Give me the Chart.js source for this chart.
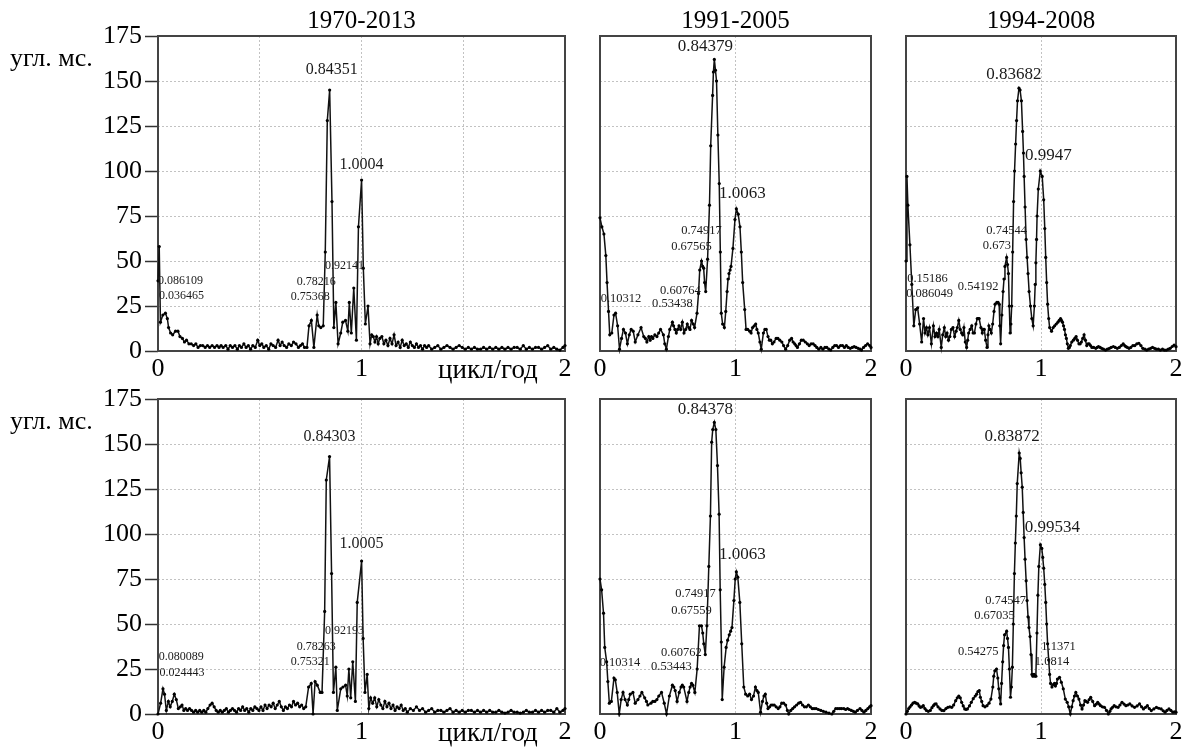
<!DOCTYPE html>
<html>
<head>
<meta charset="utf-8">
<script src="https://cdn.jsdelivr.net/npm/chart.js@4.4.1/dist/chart.umd.min.js"></script>
<style>
  html, body { margin: 0; padding: 0; background: #fff; overflow: hidden; }
  #page { position: relative; width: 1195px; height: 751px; font-family: 'Liberation Serif', 'Times New Roman', serif; color: #000; }
  .box { position: absolute; }
  .txt { position: absolute; white-space: nowrap; line-height: 1; }
</style>
</head>
<body>
<div id="page"></div>
<script>
// ---- text ----
const PERIODS = ['1970-2013', '1991-2005', '1994-2008'];
const Y_UNIT = 'угл. мс.';
const X_UNIT = 'цикл/год';

// ---- amplitude spectra: [frequency (cycles/year), amplitude (mas)] ----
const spec1970a = [[0,39],[0.006,58],[0.012,16],[0.024,20],[0.036465,21],[0.046,18],[0.052,13],[0.062,10],[0.072,9],[0.086109,11],[0.098,11],[0.108,8],[0.12,7],[0.13,5],[0.14,6],[0.152,4],[0.163,4],[0.175,3],[0.186,4],[0.197,2],[0.208,3],[0.22,3],[0.232,2],[0.243,3],[0.254,2],[0.266,3],[0.278,2],[0.29,3],[0.3,2],[0.31,3],[0.32,2],[0.333,3],[0.344,1],[0.355,3],[0.366,2],[0.378,3],[0.39,1],[0.4,3],[0.41,2],[0.422,4],[0.433,2],[0.444,3],[0.455,1],[0.466,3],[0.478,2],[0.49,6],[0.5,3],[0.51,4],[0.52,2],[0.532,3],[0.544,1],[0.555,4],[0.566,3],[0.578,2],[0.59,6],[0.6,3],[0.61,5],[0.62,3],[0.632,2],[0.643,4],[0.655,3],[0.666,5],[0.678,4],[0.69,2],[0.7,3],[0.71,4],[0.72,2],[0.732,2],[0.742,14],[0.75368,17],[0.766,2],[0.78216,20],[0.79,14],[0.8,13],[0.812,14],[0.822,55],[0.832,128],[0.84351,145],[0.855,83],[0.864,13],[0.874,27],[0.885,4],[0.898,10],[0.908,16],[0.92141,17],[0.933,11],[0.94,27],[0.95,10],[0.962,35],[0.975,6],[0.985,69],[1.0004,95],[1.009,46],[1.019,15],[1.032,25],[1.042,4],[1.05,9],[1.058,8],[1.066,5],[1.074,8],[1.082,4],[1.09,7],[1.1,8],[1.11,4],[1.12,6],[1.13,3],[1.14,7],[1.15,4],[1.16,9],[1.17,3],[1.18,5],[1.19,2],[1.2,6],[1.21,3],[1.22,4],[1.23,2],[1.24,5],[1.25,3],[1.26,2],[1.27,4],[1.28,2],[1.29,3],[1.3,1],[1.31,3],[1.32,2],[1.33,3],[1.345,1],[1.36,2],[1.375,3],[1.39,1],[1.405,2],[1.42,3],[1.435,2],[1.45,1],[1.465,2],[1.48,3],[1.495,2],[1.51,1],[1.525,2],[1.54,1],[1.555,2],[1.57,1],[1.585,1],[1.6,2],[1.615,1],[1.63,2],[1.645,1],[1.66,2],[1.675,1],[1.69,2],[1.705,1],[1.72,2],[1.735,1],[1.75,2],[1.765,2],[1.78,1],[1.795,3],[1.81,1],[1.825,2],[1.84,1],[1.855,2],[1.87,2],[1.885,1],[1.9,2],[1.915,3],[1.93,1],[1.945,2],[1.96,1],[1.975,0.5],[1.99,2],[2,3]];
const peaks1970a = [0.84351, 1.0004, 0.92141, 0.78216, 0.75368, 0.086109, 0.036465];

const spec1991a = [[0,74],[0.014,69],[0.029,65],[0.043,53],[0.052,38],[0.063,22],[0.072,9],[0.087,10],[0.10312,20],[0.115,21],[0.13,14],[0.144,1],[0.159,7],[0.173,12],[0.188,10],[0.202,4],[0.216,9],[0.23,12],[0.245,11],[0.26,5],[0.28,9],[0.303,13],[0.323,8],[0.335,7],[0.346,5],[0.36,8],[0.37,6],[0.38,8],[0.39,7],[0.405,9],[0.42,8],[0.433,10],[0.447,12],[0.468,9],[0.478,4],[0.49,1],[0.505,8],[0.515,12],[0.53438,16],[0.543,14],[0.553,12],[0.563,10],[0.573,12],[0.583,14],[0.595,12],[0.60764,16],[0.62,10],[0.632,12],[0.644,15],[0.655,13],[0.664,12],[0.67565,17],[0.688,15],[0.698,13],[0.716,21],[0.727,32],[0.736,45],[0.74917,50],[0.758,47],[0.765,46],[0.772,38],[0.78,33],[0.794,51],[0.808,81],[0.817,114],[0.831,142],[0.837,155],[0.84379,162],[0.852,156],[0.86,150],[0.87,120],[0.88,93],[0.888,55],[0.895,21],[0.905,15],[0.918,13],[0.928,22],[0.938,33],[0.945,40],[0.952,43],[0.96,45],[0.967,47],[0.981,57],[0.996,73],[1.0063,79],[1.02,76],[1.033,69],[1.043,55],[1.053,38],[1.068,23],[1.078,12],[1.09,12],[1.105,11],[1.115,10],[1.126,13],[1.138,14],[1.149,15],[1.158,12],[1.168,10],[1.18,5],[1.19,1],[1.206,10],[1.217,12],[1.227,12],[1.24,8],[1.25,6],[1.26,6],[1.272,4],[1.284,5],[1.3,7],[1.313,7],[1.327,6],[1.342,5],[1.355,3],[1.37,1],[1.385,3],[1.4,6],[1.414,7],[1.425,5],[1.437,4],[1.447,3],[1.457,2],[1.472,4],[1.486,6],[1.5,6],[1.515,5],[1.53,4],[1.544,3],[1.558,4],[1.573,4],[1.587,3],[1.6,2],[1.615,1],[1.63,2],[1.645,1],[1.66,2],[1.674,2],[1.69,1],[1.703,0.5],[1.718,2],[1.732,3],[1.746,3],[1.76,2],[1.775,3],[1.79,3],[1.804,2],[1.818,3],[1.832,2],[1.847,1.5],[1.862,2],[1.876,2.4],[1.89,2],[1.905,1.5],[1.92,1],[1.93,0.5],[1.945,2],[1.96,3],[1.975,4],[1.99,3],[2,2]];
const peaks1991a = [0.84379, 1.0063, 0.74917, 0.67565, 0.60764, 0.53438, 0.10312];

const spec1994a = [[0,50],[0.007,97],[0.014,81],[0.029,59],[0.043,37],[0.058,14],[0.072,23],[0.086049,24],[0.101,15],[0.116,5],[0.13,18],[0.141,10],[0.15186,13],[0.162,9],[0.174,13],[0.188,4],[0.203,14],[0.215,8],[0.226,10],[0.236,8],[0.246,12],[0.261,2],[0.272,9],[0.284,13],[0.294,8],[0.304,10],[0.315,6],[0.325,8],[0.336,12],[0.348,13],[0.36,8],[0.371,11],[0.38,13],[0.391,17],[0.402,12],[0.412,10],[0.42,9],[0.429,13],[0.439,5],[0.449,2],[0.457,6],[0.464,10],[0.475,12],[0.487,14],[0.497,10],[0.507,10],[0.518,15],[0.528,18],[0.535,18],[0.54192,18],[0.555,13],[0.565,10],[0.572,12],[0.58,12],[0.59,6],[0.6,2],[0.607,9],[0.614,14],[0.622,12],[0.632,10],[0.642,15],[0.652,22],[0.66,26],[0.673,27],[0.682,27],[0.69,26],[0.695,14],[0.701,4],[0.71,20],[0.719,33],[0.726,40],[0.733,47],[0.74544,52],[0.752,48],[0.759,43],[0.765,25],[0.771,10],[0.777,15],[0.783,25],[0.79,55],[0.797,83],[0.804,100],[0.812,115],[0.819,128],[0.826,139],[0.83682,146],[0.845,145],[0.855,139],[0.864,122],[0.87,110],[0.875,97],[0.882,80],[0.89,62],[0.897,52],[0.904,43],[0.912,33],[0.922,25],[0.932,18],[0.942,14],[0.951,25],[0.957,37],[0.962,49],[0.967,62],[0.971,75],[0.98,90],[0.9947,100],[1.009,97],[1.02,84],[1.028,68],[1.035,52],[1.042,38],[1.049,26],[1.057,18],[1.064,13],[1.078,11],[1.09,13],[1.101,14],[1.113,15],[1.125,16],[1.135,17],[1.145,18],[1.152,17],[1.159,16],[1.167,14],[1.174,12],[1.181,9],[1.188,7],[1.195,4],[1.203,1.5],[1.21,2],[1.217,3],[1.228,5],[1.24,6],[1.25,7],[1.26,8],[1.27,6],[1.281,4],[1.29,4],[1.299,5],[1.309,7],[1.319,9],[1.329,6],[1.339,3],[1.348,4],[1.357,4],[1.367,3],[1.377,2],[1.39,2],[1.406,1.5],[1.416,2],[1.426,2.5],[1.438,2],[1.449,1.5],[1.463,1],[1.478,0.5],[1.492,1],[1.507,1.5],[1.52,2],[1.536,2.5],[1.55,2],[1.565,1.5],[1.58,2],[1.595,3],[1.609,4],[1.62,3],[1.629,2.4],[1.64,2],[1.652,1.5],[1.665,2],[1.681,3],[1.695,3],[1.71,4],[1.725,4.3],[1.74,3],[1.754,1.5],[1.77,1],[1.783,0.5],[1.797,1],[1.812,1.5],[1.826,2],[1.841,1.5],[1.855,1],[1.87,1],[1.884,0.5],[1.9,1],[1.914,0.5],[1.928,0.5],[1.943,1],[1.957,1.5],[1.972,2.5],[1.986,3.3],[2,2.4]];
const peaks1994a = [0.83682, 0.9947, 0.74544, 0.673, 0.54192, 0.15186, 0.086049];

const spec1970b = [[0,0],[0.013,6],[0.024443,14],[0.032,11],[0.041,2],[0.051,7],[0.06,4],[0.07,7],[0.080089,11],[0.09,8],[0.1,3],[0.11,4],[0.118,5],[0.127,2],[0.136,3],[0.145,2],[0.155,3],[0.165,2],[0.175,1],[0.185,2],[0.195,1],[0.205,2],[0.215,1],[0.225,2],[0.235,1],[0.245,3],[0.256,5],[0.266,6],[0.276,4],[0.286,2],[0.296,1],[0.306,2],[0.316,1],[0.326,2],[0.336,3],[0.346,1],[0.356,2],[0.366,3],[0.376,2],[0.386,1],[0.396,3],[0.406,2],[0.416,4],[0.426,2],[0.436,3],[0.446,1],[0.456,3],[0.466,2],[0.476,4],[0.486,3],[0.496,2],[0.506,4],[0.516,2],[0.526,5],[0.536,3],[0.546,5],[0.556,4],[0.566,6],[0.576,3],[0.586,5],[0.596,7],[0.606,4],[0.616,2],[0.626,4],[0.636,3],[0.646,5],[0.656,4],[0.666,7],[0.676,5],[0.686,6],[0.696,4],[0.706,5],[0.716,3],[0.726,4],[0.74,15],[0.75321,17],[0.762,0],[0.772,18],[0.78263,16],[0.797,12],[0.806,12],[0.819,57],[0.827,130],[0.84303,143],[0.853,78],[0.862,12],[0.874,26],[0.881,2],[0.898,14],[0.909,15],[0.92193,16],[0.93,10],[0.938,25],[0.947,9],[0.957,29],[0.97,7],[0.979,62],[1.0005,85],[1.008,42],[1.017,12],[1.028,22],[1.036,3],[1.045,9],[1.055,6],[1.065,9],[1.075,4],[1.085,8],[1.095,5],[1.105,3],[1.115,7],[1.125,4],[1.135,6],[1.145,3],[1.155,5],[1.165,2],[1.175,4],[1.185,3],[1.195,5],[1.205,2],[1.215,3],[1.225,1],[1.24,3],[1.255,2],[1.27,4],[1.285,2],[1.3,3],[1.315,1],[1.33,2],[1.345,3],[1.36,1],[1.375,2],[1.39,2],[1.405,1],[1.42,2],[1.435,3],[1.45,1],[1.465,2],[1.48,1],[1.495,2],[1.51,1],[1.525,2],[1.54,2],[1.555,1],[1.57,2],[1.585,1],[1.6,2],[1.615,1],[1.63,2],[1.645,1],[1.66,1],[1.675,2],[1.69,1],[1.705,0.5],[1.72,1],[1.735,2],[1.75,1],[1.765,1],[1.78,0.5],[1.795,1],[1.81,2],[1.825,1],[1.84,1],[1.855,2],[1.87,1],[1.885,2],[1.9,1],[1.915,2],[1.93,2],[1.945,1],[1.96,3],[1.975,1],[1.99,2],[2,3]];
const peaks1970b = [0.84303, 1.0005, 0.92193, 0.78263, 0.75321, 0.080089, 0.024443];

const spec1991b = [[0,75],[0.012,69],[0.026,56],[0.035,37],[0.049,29],[0.058,18],[0.069,6],[0.084,7],[0.10314,20],[0.113,19],[0.127,12],[0.142,0],[0.156,8],[0.17,12],[0.185,8],[0.202,5],[0.212,8],[0.223,11],[0.243,12],[0.26,6],[0.28,8],[0.295,10],[0.309,12],[0.33,9],[0.343,7],[0.353,5],[0.376,6],[0.39,7],[0.405,7],[0.42,8],[0.434,10],[0.454,12],[0.474,6],[0.491,0],[0.512,10],[0.53443,16],[0.545,15],[0.555,13],[0.569,7],[0.585,12],[0.598,15],[0.60762,16],[0.618,15],[0.642,7],[0.655,12],[0.665,15],[0.67559,17],[0.685,16],[0.7,12],[0.717,25],[0.734,49],[0.74917,49],[0.758,45],[0.766,39],[0.777,33],[0.789,49],[0.803,82],[0.815,110],[0.824,151],[0.832,158],[0.84378,162],[0.855,158],[0.867,138],[0.879,111],[0.887,69],[0.895,40],[0.902,8],[0.916,26],[0.931,37],[0.942,41],[0.954,44],[0.964,46],[0.974,48],[0.988,63],[0.998,75],[1.0063,79],[1.017,76],[1.032,62],[1.046,39],[1.061,15],[1.075,11],[1.09,10],[1.104,11],[1.118,8],[1.133,10],[1.147,15],[1.158,13],[1.168,12],[1.185,1],[1.199,7],[1.21,10],[1.22,11],[1.23,6],[1.24,3],[1.252,4],[1.263,5],[1.275,5],[1.286,5],[1.3,4],[1.315,3],[1.328,4],[1.341,6],[1.355,6],[1.37,5],[1.383,2],[1.393,0],[1.408,2],[1.422,3],[1.436,4],[1.451,5],[1.466,6],[1.48,6.5],[1.495,5],[1.509,4],[1.523,4],[1.538,5],[1.552,4],[1.566,3],[1.58,3],[1.595,3],[1.612,2.5],[1.63,2],[1.648,1.5],[1.668,1],[1.69,0.5],[1.711,0],[1.725,1.5],[1.74,3],[1.755,3],[1.77,3],[1.783,3],[1.8,3],[1.813,2.5],[1.827,3],[1.84,2.5],[1.855,2],[1.87,1.5],[1.884,1],[1.9,2],[1.919,3],[1.933,2],[1.948,1],[1.962,2],[1.977,3],[1.99,4],[2,4.6]];
const peaks1991b = [0.84378, 1.0063, 0.74917, 0.67559, 0.60762, 0.53443, 0.10314];

const spec1994b = [[0,0],[0.01,1.5],[0.02,3],[0.03,4],[0.041,5],[0.052,6],[0.064,6.5],[0.075,6],[0.087,5.6],[0.097,4.5],[0.107,3.7],[0.118,4],[0.128,4.6],[0.14,3],[0.151,2],[0.165,1.5],[0.18,2],[0.192,3.5],[0.203,4.6],[0.213,5.5],[0.223,5.6],[0.237,4],[0.252,2.8],[0.266,2],[0.281,1.9],[0.296,3],[0.31,3.7],[0.325,4],[0.339,3.7],[0.353,5],[0.368,7.4],[0.38,9],[0.391,10],[0.402,9],[0.412,6.5],[0.424,4.5],[0.435,2.8],[0.445,2.5],[0.455,2.8],[0.47,4.5],[0.484,6.5],[0.498,8.5],[0.513,10],[0.523,11],[0.533,12.5],[0.54275,13],[0.551,9.3],[0.561,7],[0.571,4.6],[0.585,4],[0.6,4.6],[0.615,6],[0.629,8.3],[0.643,15],[0.65,21],[0.658,24],[0.67035,25],[0.68,20],[0.687,14],[0.694,9],[0.701,5.6],[0.708,17],[0.716,29],[0.723,38],[0.73,44],[0.74547,46],[0.752,42],[0.759,37],[0.766,25],[0.774,9.3],[0.781,15],[0.788,26],[0.795,50],[0.803,78],[0.81,95],[0.817,110],[0.824,128],[0.83872,145],[0.846,142],[0.853,134],[0.861,126],[0.868,112],[0.875,98],[0.882,86],[0.89,74],[0.897,63],[0.904,54],[0.911,48],[0.919,43],[0.926,33],[0.933,22],[0.94,21],[0.948,22],[0.955,21],[0.962,21],[0.97,45],[0.977,66],[0.984,82],[0.99534,94],[1.006,92],[1.013,87],[1.02,81],[1.028,72],[1.035,62],[1.042,50],[1.049,39],[1.057,30],[1.064,22],[1.071,17],[1.0814,15],[1.093,16.5],[1.1,17],[1.107,15.6],[1.115,17],[1.122,19.4],[1.1371,20.4],[1.151,17.6],[1.165,14],[1.18,8.3],[1.194,6.5],[1.205,4],[1.217,0],[1.228,4],[1.238,7.4],[1.248,10],[1.258,12],[1.27,10],[1.281,8.3],[1.293,5],[1.304,2.8],[1.315,5],[1.325,7.4],[1.335,7],[1.345,6.5],[1.357,8],[1.368,9.3],[1.383,7],[1.397,4.6],[1.41,5.5],[1.42,6.5],[1.431,5.5],[1.441,4.6],[1.455,4],[1.47,3.7],[1.485,2],[1.499,0],[1.51,1.5],[1.519,2.8],[1.53,3.7],[1.542,4.6],[1.556,4],[1.571,3.7],[1.585,5],[1.6,6.5],[1.615,5.5],[1.629,4.6],[1.643,5],[1.658,5.6],[1.675,4.5],[1.693,3.7],[1.712,4.5],[1.73,5.6],[1.745,4],[1.759,2.8],[1.774,3.7],[1.788,4.6],[1.802,3],[1.817,1.9],[1.836,2.8],[1.855,3.7],[1.872,3.2],[1.89,2.8],[1.905,1.8],[1.919,1],[1.933,2],[1.948,2.8],[1.962,2],[1.977,1],[1.99,1.2],[2,1]];
const peaks1994b = [0.83872, 0.99534, 0.74547, 0.67035, 0.54275, 1.1371, 1.0814];

// ---- layout (page pixels) ----
const SERIF = "'Liberation Serif', 'Times New Roman', serif";
const ROW_TOP = [36, 399];
const PLOT_H = 315;
const COL_X = [[158, 565], [600, 871], [906, 1176]];

// label placement relative to its peak marker: [dx, dy, font size]
const LABEL_OFFSETS = {
  '1970a': [[2,-20,16],[0,-15,16],[-1,-55,12],[-1,-33,12],[-1,-24,12],[5,-50,12],[16,-17,12]],
  '1991a': [[-9,-13,17],[6,-15,17],[0,-30,12.5],[0,-74,12.5],[-2,-31,12.5],[0,-18,12.5],[7,-16,12.5]],
  '1994a': [[-5,-14,17],[8,-15,17],[0,-27,12.5],[0,-57,12.5],[-1,-32,12.5],[1,-49,12.5],[12,-14,12.5]],
  '1970b': [[0,-20,16],[0,-17,16],[-1,-54,12],[-1,-38,12],[-1,-22,12],[7,-37,12],[19,-16,12]],
  '1991b': [[-9,-13,17],[6,-17,17],[-6,-32,12.5],[0,-73,12.5],[-1,-32,12.5],[-1,-18,12.5],[6,-15,12.5]],
  '1994b': [[-7,-16,17],[12,-17,17],[-1,-30,12.5],[-2,-53,12.5],[-1,-39,12.5],[-1,-31,12.5],[0,-25,12.5]]
};

const PANELS = [
  { key: '1970a', spec: spec1970a, peaks: peaks1970a, row: 0, col: 0 },
  { key: '1991a', spec: spec1991a, peaks: peaks1991a, row: 0, col: 1 },
  { key: '1994a', spec: spec1994a, peaks: peaks1994a, row: 0, col: 2 },
  { key: '1970b', spec: spec1970b, peaks: peaks1970b, row: 1, col: 0 },
  { key: '1991b', spec: spec1991b, peaks: peaks1991b, row: 1, col: 1 },
  { key: '1994b', spec: spec1994b, peaks: peaks1994b, row: 1, col: 2 }
];

const page = document.getElementById('page');

function addText(str, left, baseline, size, center) {
  const d = document.createElement('div');
  d.className = 'txt';
  d.textContent = str;
  d.style.fontSize = size + 'px';
  d.style.top = (baseline - 0.8375 * size) + 'px';
  if (center) {
    d.style.left = (left - 150) + 'px';
    d.style.width = '300px';
    d.style.textAlign = 'center';
  } else {
    d.style.left = left + 'px';
  }
  page.appendChild(d);
}

// frame around the plotting area
const framePlugin = {
  id: 'frame',
  beforeDatasetsDraw(chart) {
    const { ctx, chartArea: a } = chart;
    ctx.save();
    ctx.strokeStyle = '#444';
    ctx.lineWidth = 2;
    ctx.strokeRect(a.left, a.top, a.right - a.left, a.bottom - a.top);
    ctx.restore();
  }
};

function peakLabelPlugin(peaks, offsets) {
  return {
    id: 'peakLabels',
    afterDatasetsDraw(chart) {
      const { ctx } = chart;
      const pts = chart.data.datasets[0].data;
      const meta = chart.getDatasetMeta(0);
      ctx.save();
      ctx.fillStyle = '#1a1a1a';
      ctx.textAlign = 'center';
      ctx.textBaseline = 'middle';
      peaks.forEach((f, i) => {
        const idx = pts.findIndex(p => p.x === f);
        if (idx < 0) return;
        const el = meta.data[idx];
        const [dx, dy, size] = offsets[i];
        ctx.font = size + 'px ' + SERIF;
        ctx.fillText(String(f), el.x + dx, el.y + dy);
      });
      ctx.restore();
    }
  };
}

PANELS.forEach(p => {
  const [x0, x1] = COL_X[p.col];
  const top = ROW_TOP[p.row];
  const padL = p.col === 0 ? 78 : 12;
  const padR = 16, padT = 36, axisH = 40;
  const w = padL + (x1 - x0) + padR;
  const h = padT + PLOT_H + axisH;
  const box = document.createElement('div');
  box.className = 'box';
  box.style.left = (x0 - padL) + 'px';
  box.style.top = (top - padT) + 'px';
  const cv = document.createElement('canvas');
  cv.width = w; cv.height = h;
  cv.style.width = w + 'px'; cv.style.height = h + 'px';
  box.appendChild(cv);
  page.appendChild(box);

  const gridColor = (lo, hi) => ctx => {
    const v = ctx.tick ? ctx.tick.value : null;
    return (v === lo || v === hi) ? 'rgba(0,0,0,0)' : '#c2c2c2';
  };

  new Chart(cv, {
    type: 'line',
    data: {
      datasets: [{
        data: p.spec.map(([f, a]) => ({ x: f, y: a })),
        borderColor: '#111',
        borderWidth: 1.5,
        pointRadius: 1.6,
        pointBackgroundColor: '#000',
        pointBorderWidth: 0,
        pointHoverRadius: 0,
        tension: 0,
        clip: 3
      }]
    },
    options: {
      responsive: false,
      animation: false,
      devicePixelRatio: 1,
      events: [],
      layout: { padding: { top: padT, right: padR, left: 0, bottom: 0 } },
      plugins: { legend: { display: false }, tooltip: { enabled: false } },
      scales: {
        x: {
          type: 'linear', min: 0, max: 2,
          afterFit: s => { s.height = axisH; },
          ticks: {
            stepSize: p.col === 0 ? 0.5 : 1,
            autoSkip: false, maxRotation: 0,
            callback: v => Number.isInteger(v) ? String(v) : '',
            font: { family: SERIF, size: 26 }, color: '#000', padding: 3
          },
          grid: { color: gridColor(0, 2), lineWidth: 1, drawTicks: false },
          border: { display: false, dash: [2, 2] }
        },
        y: {
          min: 0, max: 175,
          afterFit: s => { s.width = padL; },
          ticks: {
            display: p.col === 0, stepSize: 25,
            font: { family: SERIF, size: 26 }, color: '#000', padding: 3
          },
          grid: {
            color: gridColor(0, 175), lineWidth: 1,
            drawTicks: p.col === 0, tickLength: 13, tickColor: '#333', tickWidth: 1.5
          },
          border: { display: false, dash: [2, 2] }
        }
      }
    },
    plugins: [framePlugin, peakLabelPlugin(p.peaks, LABEL_OFFSETS[p.key])]
  });
});

// titles and axis units
PERIODS.forEach((t, c) => addText(t, (COL_X[c][0] + COL_X[c][1]) / 2, 28, 25, true));
ROW_TOP.forEach(t => {
  addText(Y_UNIT, 10, t + 31, 26, false);
  addText(X_UNIT, 438, t + PLOT_H + 28, 27, false);
});
</script>
</body>
</html>
